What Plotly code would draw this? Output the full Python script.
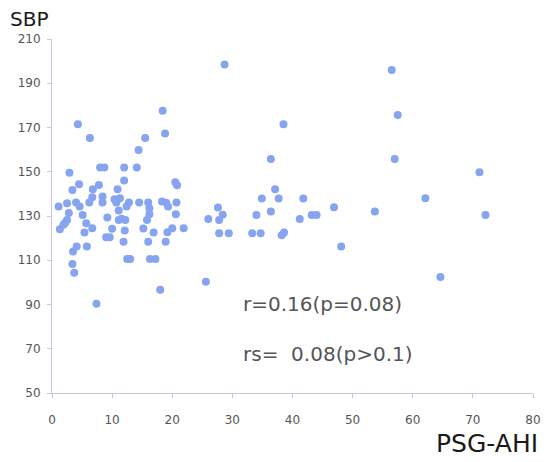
import plotly.graph_objects as go

ahi = [1.1, 2.5, 2.9, 4.0, 4.6, 4.3, 6.3, 3.4, 4.5, 6.8, 7.8, 8.0, 8.7, 12.0, 14.1,
       12.0, 10.9, 11.3, 6.7, 6.2, 8.4, 8.4, 10.4, 10.7, 12.8, 12.4, 11.1, 2.8, 5.1,
       2.5, 1.9, 1.3, 2.2, 5.7, 6.7, 9.2, 11.1, 12.2, 11.6, 10.0, 12.1, 5.4, 9.0, 9.6,
       11.9, 4.1, 5.8, 3.5, 12.5, 13.0, 3.4, 3.7, 7.4, 14.4, 15.5, 18.4, 18.8, 20.5,
       20.8, 14.5, 16.0, 16.2, 16.2, 15.8, 18.3, 19.0, 19.3, 20.7, 20.6, 15.2, 20.0,
       21.9, 16.9, 19.2, 16.0, 18.9, 16.3, 17.2, 18.0,
       25.6, 26.0, 27.6, 28.4, 27.8, 27.8, 29.4, 28.7, 33.3, 34.7, 34.0, 34.9, 36.4,
       36.4, 37.1, 37.7, 38.2, 38.6, 38.5, 41.8, 41.2, 43.2, 44.0, 46.9, 48.1,
       53.7, 56.5, 57.5, 57.0, 62.1, 64.6, 71.1, 72.1]
sbp = [134.3, 135.8, 149.6, 136.1, 134.3, 171.5, 165.2, 141.8, 144.4, 142.1, 144.0,
       151.9, 151.9, 151.9, 151.9, 146.0, 142.1, 138.0, 138.5, 136.1, 138.8, 136.1,
       137.6, 136.1, 136.1, 134.3, 132.5, 131.3, 130.5, 128.2, 126.0, 124.0, 127.0,
       126.7, 124.5, 129.3, 128.2, 128.2, 128.8, 124.2, 123.4, 122.5, 120.4, 120.4,
       118.4, 116.2, 116.2, 113.9, 110.6, 110.6, 108.3, 104.4, 90.3, 159.8, 165.2,
       177.6, 167.3, 145.3, 143.9, 136.1, 136.1, 133.5, 130.8, 128.2, 136.5, 136.0,
       134.3, 136.1, 130.8, 124.3, 124.5, 124.5, 122.5, 122.7, 118.4, 118.4, 110.6,
       110.6, 96.7,
       100.3, 128.6, 133.8, 130.6, 128.2, 122.2, 122.2, 198.5, 122.2, 122.2, 130.5,
       137.9, 132.0, 155.8, 142.1, 137.9, 121.3, 122.5, 171.5, 137.9, 128.6, 130.5,
       130.5, 134.0, 116.2,
       132.0, 196.0, 175.7, 155.8, 138.0, 102.4, 149.8, 130.5]

x_ticks = [0, 10, 20, 30, 40, 50, 60, 70, 80]
y_ticks = [50, 70, 90, 110, 130, 150, 170, 190, 210]
stats_lines = ["r=0.16(p=0.08)", "rs=  0.08(p>0.1)"]
stats_x = [31.4, 31.4]
stats_y = [90.2, 67.8]

fig = go.Figure()
fig.add_trace(go.Scatter(
    x=ahi, y=sbp, mode="markers",
    marker=dict(size=8, color="#86a4ef", line=dict(width=0)),
    hoverinfo="x+y", showlegend=False,
))

axis_common = dict(
    showgrid=False, zeroline=False, showline=True,
    linecolor="#c9c7de", linewidth=1,
    ticks="outside", ticklen=4, tickcolor="#c9c7de",
    tickfont=dict(family="DejaVu Sans", size=12, color="#555555"),
)
fig.update_xaxes(range=[0, 80], tickvals=x_ticks, ticklabelstandoff=12, **axis_common)
fig.update_yaxes(range=[50, 210], tickvals=y_ticks, ticklabelstandoff=4, **axis_common)

for t, xx, yy in zip(stats_lines, stats_x, stats_y):
    fig.add_annotation(x=xx, y=yy, text=t, showarrow=False, xanchor="left",
                       yanchor="middle",
                       font=dict(family="DejaVu Sans", size=20, color="#555555"))

fig.update_layout(
    width=549, height=462,
    margin=dict(l=52, r=8, t=39, b=69),
    paper_bgcolor="white", plot_bgcolor="white",
)
fig.add_annotation(x=-45/489, y=(462-19-69)/354, xref="paper", yref="paper",
                   text="SBP", showarrow=False, xanchor="left", yanchor="middle",
                   font=dict(family="DejaVu Sans", size=20, color="#1a1a1a"))
fig.add_annotation(x=(548-52)/489, y=-(443-393)/354, xref="paper", yref="paper",
                   text="PSG-AHI", showarrow=False, xanchor="right", yanchor="middle",
                   font=dict(family="DejaVu Sans", size=25, color="#1a1a1a"))

fig.write_html("out.html")
